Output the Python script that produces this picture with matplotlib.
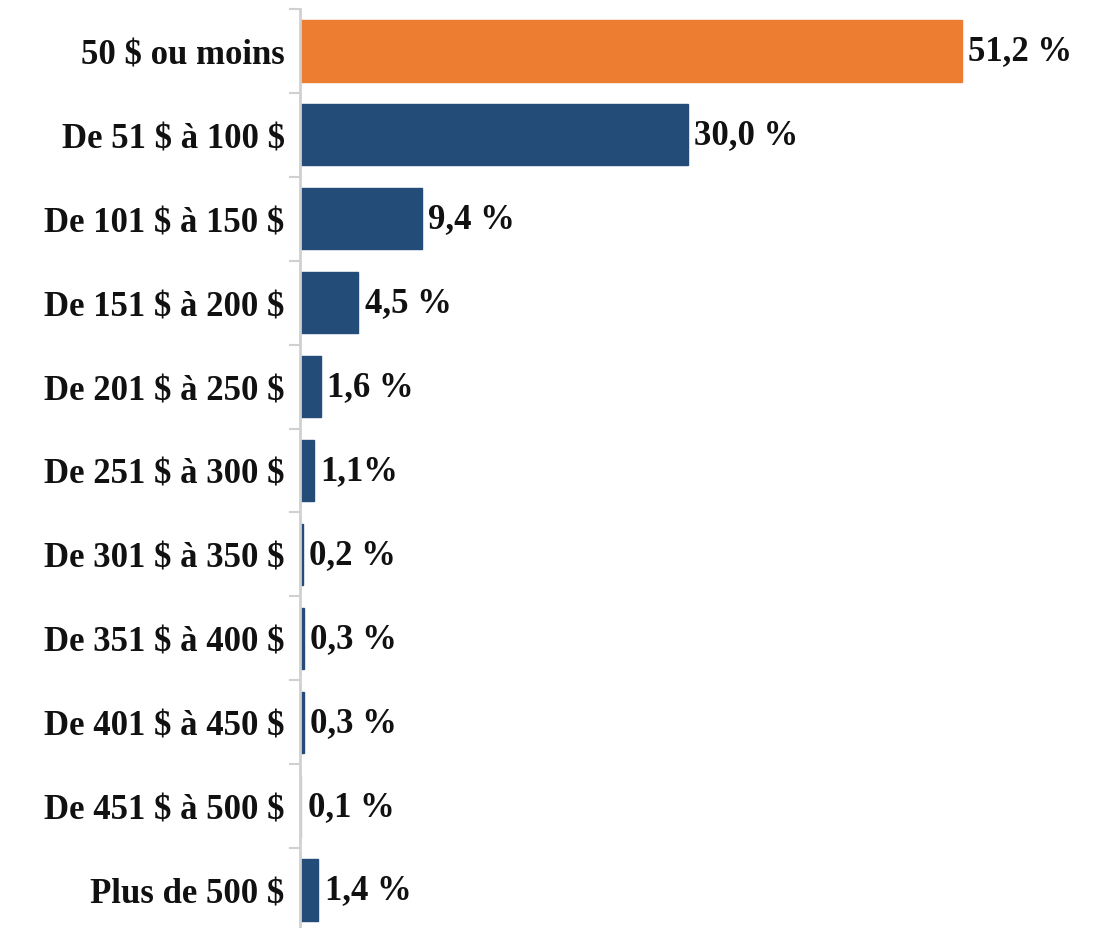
import matplotlib
matplotlib.use("Agg")
import matplotlib.pyplot as plt
import numpy as np

categories = ["50 $ ou moins", "De 51 $ à 100 $", "De 101 $ à 150 $", "De 151 $ à 200 $",
              "De 201 $ à 250 $", "De 251 $ à 300 $", "De 301 $ à 350 $", "De 351 $ à 400 $",
              "De 401 $ à 450 $", "De 451 $ à 500 $", "Plus de 500 $"]
values = [51.2, 30.0, 9.4, 4.5, 1.6, 1.1, 0.2, 0.3, 0.3, 0.1, 1.4]
value_labels = ["51,2 %", "30,0 %", "9,4 %", "4,5 %", "1,6 %", "1,1%", "0,2 %", "0,3 %",
                "0,3 %", "0,1 %", "1,4 %"]
colors = ["#ED7D31"] + ["#244C78"] * 8 + ["#BFBFBF", "#244C78"]

plt.rcParams['font.family'] = ['Liberation Serif', 'DejaVu Serif']
plt.rcParams['font.weight'] = 'bold'
plt.rcParams['text.parse_math'] = False

fig = plt.figure(figsize=(11.04, 9.29), dpi=100)
ax = fig.add_axes([300 / 1104, 1 - 933 / 929, 804 / 1104, 923 / 929])

y = np.arange(len(categories))
ax.barh(y, values, height=0.73, color=colors, edgecolor=colors, linewidth=1)
ax.set_ylim(len(categories) - 0.5, -0.5)
ax.set_xlim(0, 804 / 12.93)

for yi, v, lab in zip(y, values, value_labels):
    ax.text(v + 0.5, yi, lab, va='center', ha='left', fontsize=25, fontweight='bold', color='#111111')

ax.set_yticks(y)
ax.set_yticklabels(categories, fontsize=25, fontweight='bold', color='#111111')
ax.tick_params(axis='y', which='major', length=0, pad=11)
ax.set_yticks(np.arange(-0.5, len(categories), 1), minor=True)
ax.tick_params(axis='y', which='minor', length=8, width=1.5, color='#D0D0D0')
ax.set_xticks([])

for s in ['top', 'right', 'bottom']:
    ax.spines[s].set_visible(False)
ax.spines['left'].set_color('#D0D0D0')
ax.spines['left'].set_linewidth(2)

fig.savefig("out.png", dpi=100)
